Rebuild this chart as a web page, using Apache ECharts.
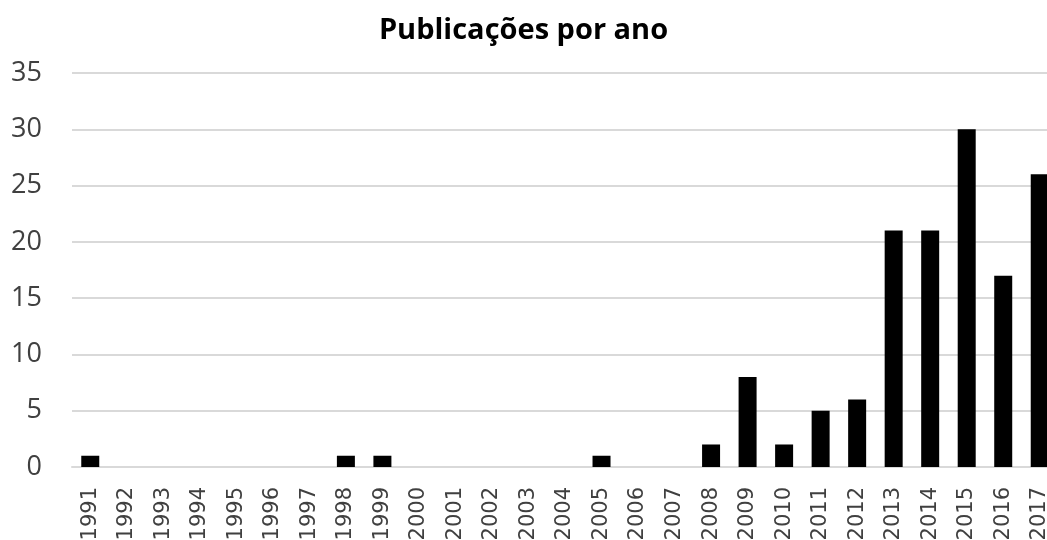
<!DOCTYPE html>
<html>
<head>
<meta charset="utf-8">
<script src="https://cdn.jsdelivr.net/npm/echarts@6/dist/echarts.min.js"></script>
<style>
html,body{margin:0;padding:0;background:#fff;}
#c{width:1047px;height:540px;}
</style>
</head>
<body>
<div id="c"></div>
<script>
const titleText = 'Publicações por ano';
const years = ['1991','1992','1993','1994','1995','1996','1997','1998','1999','2000','2001','2002','2003','2004','2005','2006','2007','2008','2009','2010','2011','2012','2013','2014','2015','2016','2017'];
const publications = [1,0,0,0,0,0,0,1,1,0,0,0,0,0,1,0,0,2,8,2,5,6,21,21,30,17,26];
const yTicks = [0,5,10,15,20,25,30,35];

const chart = echarts.init(document.getElementById('c'), null, {renderer:'canvas'});
chart.setOption({
  animation:false,
  backgroundColor:'#ffffff',
  title:{
    text:titleText,
    left:'center',
    top:11,
    textStyle:{fontFamily:'Open Sans',fontWeight:'bold',fontSize:29,color:'#000'}
  },
  grid:{left:72,width:986,top:73,height:394,containLabel:false,outerBoundsMode:'none'},
  xAxis:{
    type:'category',
    data:years,
    boundaryGap:true,
    axisLine:{show:true,lineStyle:{color:'#d9d9d9',width:2}},
    axisTick:{show:false},
    axisLabel:{rotate:90,margin:20,fontFamily:'DejaVu Sans',fontSize:21,color:'#404040',interval:0}
  },
  yAxis:{
    type:'value',
    min:yTicks[0],
    max:yTicks[yTicks.length-1],
    interval:5,
    axisLine:{show:false},
    axisTick:{show:false},
    splitLine:{lineStyle:{color:'#d9d9d9',width:2}},
    axisLabel:{margin:30,fontFamily:'Open Sans',fontSize:27,color:'#404040'}
  },
  series:[{
    type:'bar',
    data:publications,
    barWidth:18,
    itemStyle:{color:'#000'}
  }]
});
</script>
</body>
</html>
